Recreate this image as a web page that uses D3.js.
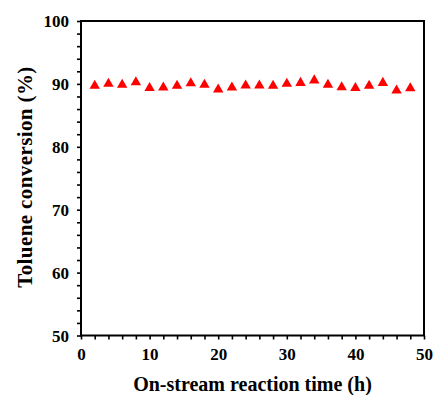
<!DOCTYPE html>
<html>
<head>
<meta charset="utf-8">
<script src="https://cdn.jsdelivr.net/npm/d3@7"></script>
<style>
  body { margin: 0; background: #fff; }
  svg { display: block; }
  svg text { font-family: "Liberation Serif", "Times New Roman", serif; font-weight: bold; }
</style>
</head>
<body>
<figure id="chart" style="margin:0"></figure>
<script>
// data
const hours = [2, 4, 6, 8, 10, 12, 14, 16, 18, 20, 22, 24, 26, 28, 30, 32, 34, 36, 38, 40, 42, 44, 46, 48];
const conversion = [89.95, 90.25, 90.1, 90.5, 89.6, 89.65, 89.95, 90.35, 90.1, 89.35, 89.65, 90.0,
                    90.0, 89.95, 90.25, 90.4, 90.8, 90.1, 89.7, 89.6, 89.95, 90.4, 89.2, 89.55];
const xTicks = [0, 10, 20, 30, 40, 50];
const yTicks = [50, 60, 70, 80, 90, 100];

const width = 433, height = 395;
const plotLeft = 81, plotRight = 424, plotTop = 21, plotBottom = 335.5;

const svg = d3.select('#chart').append('svg')
  .attr('width', width)
  .attr('height', height);

const x = d3.scaleLinear().domain([0, 50]).range([plotLeft, plotRight]);
const y = d3.scaleLinear().domain([50, 100]).range([plotBottom, plotTop]);

// minor ticks every 2 units, labels only on the majors
const xAxis = d3.axisBottom(x)
  .tickValues(d3.range(0, 50.1, 2))
  .tickSize(4)
  .tickFormat(d => xTicks.includes(d) ? d : '');
const yAxis = d3.axisLeft(y)
  .tickValues(d3.range(50, 100.1, 2))
  .tickSize(4)
  .tickFormat(d => yTicks.includes(d) ? d : '');

svg.append('g')
  .attr('transform', 'translate(0,' + plotBottom + ')')
  .call(xAxis)
  .call(g => g.select('.domain').remove())
  .call(g => g.selectAll('.tick line').attr('stroke', '#000').attr('stroke-width', 1.6))
  .call(g => g.selectAll('.tick text')
    .attr('fill', '#000')
    .attr('y', 12)
    .attr('dy', '0.71em')
    .style('font-size', '17px'));

svg.append('g')
  .attr('transform', 'translate(' + plotLeft + ',0)')
  .call(yAxis)
  .call(g => g.select('.domain').remove())
  .call(g => g.selectAll('.tick line').attr('stroke', '#000').attr('stroke-width', 1.6))
  .call(g => g.selectAll('.tick text')
    .attr('fill', '#000')
    .attr('x', -12)
    .attr('dy', '0.34em')
    .style('font-size', '17px'));

// frame
svg.append('rect')
  .attr('x', plotLeft)
  .attr('y', plotTop)
  .attr('width', plotRight - plotLeft)
  .attr('height', plotBottom - plotTop)
  .attr('fill', 'none')
  .attr('stroke', '#000')
  .attr('stroke-width', 2);

// triangle centred on its bounding box, like the plotting program does
const tri = {
  draw(ctx, size) {
    const h = Math.sqrt(size * Math.sqrt(3));
    const w = h * 2 / Math.sqrt(3);
    ctx.moveTo(0, -h / 2);
    ctx.lineTo(w / 2, h / 2);
    ctx.lineTo(-w / 2, h / 2);
    ctx.closePath();
  }
};

svg.append('g')
  .selectAll('path')
  .data(hours.map((h, i) => ({h: h, v: conversion[i]})))
  .join('path')
  .attr('transform', d => 'translate(' + x(d.h) + ',' + y(d.v) + ')')
  .attr('d', d3.symbol().type(tri).size(47))
  .attr('fill', '#ff0000');

// axis titles
svg.append('text')
  .attr('x', (plotLeft + plotRight) / 2)
  .attr('y', 391)
  .attr('text-anchor', 'middle')
  .style('font-size', '20px')
  .text('On-stream reaction time (h)');

svg.append('text')
  .attr('transform', 'translate(32,' + 177 + ') rotate(-90)')
  .attr('text-anchor', 'middle')
  .style('font-size', '21px')
  .style('letter-spacing', '0.4px')
  .text('Toluene conversion (%)');
</script>
</body>
</html>
